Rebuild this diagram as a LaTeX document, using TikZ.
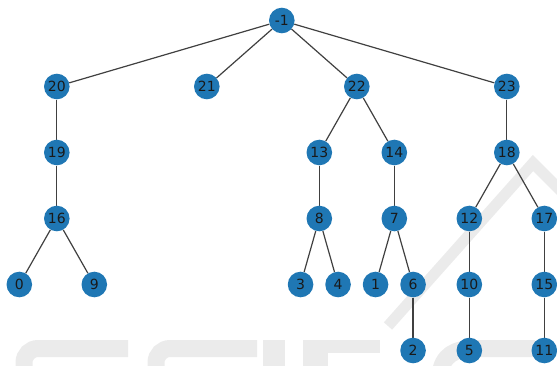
\documentclass[tikz,border=0pt]{standalone}
\usepackage{fontspec}
\setmainfont{DejaVu Sans}
\definecolor{nodeblue}{HTML}{1F77B4}
\definecolor{wmgray}{HTML}{EBEBEB}
\pgfdeclarelayer{wm}
\pgfdeclarelayer{edges}
\pgfsetlayers{wm,edges,main}
\tikzset{
  v/.style={circle, fill=nodeblue, minimum size=25.6pt, inner sep=0pt,
            text=black!90, font=\fontsize{14}{14}\selectfont},
  link/.style={draw=black!75, line width=1.2pt},
  wmstroke/.style={draw=wmgray, line width=17pt},
  wmfill/.style={fill=wmgray}
}
\begin{document}
\begin{tikzpicture}[x=1pt, y=-1pt]
\useasboundingbox (0,0) rectangle (557,365);

% tree nodes
\node[v] (nm1) at (281.8,20.5) {-1};
\node[v] (n20) at (56.8,86.5) {20};
\node[v] (n21) at (206.8,86.5) {21};
\node[v] (n22) at (356.8,86.5) {22};
\node[v] (n23) at (506.8,86.5) {23};
\node[v] (n19) at (56.8,152.5) {19};
\node[v] (n13) at (319.3,152.5) {13};
\node[v] (n14) at (394.3,152.5) {14};
\node[v] (n18) at (506.8,152.5) {18};
\node[v] (n16) at (56.8,218.5) {16};
\node[v] (n8) at (319.3,218.5) {8};
\node[v] (n7) at (394.3,218.5) {7};
\node[v] (n12) at (469.3,218.5) {12};
\node[v] (n17) at (544.3,218.5) {17};
\node[v] (n0) at (19.3,284.5) {0};
\node[v] (n9) at (94.3,284.5) {9};
\node[v] (n3) at (300.55,284.5) {3};
\node[v] (n4) at (338.05,284.5) {4};
\node[v] (n1) at (375.55,284.5) {1};
\node[v] (n6) at (413.05,284.5) {6};
\node[v] (n10) at (469.3,284.5) {10};
\node[v] (n15) at (544.3,284.5) {15};
\node[v] (n2) at (413.05,350.5) {2};
\node[v] (n5) at (469.3,350.5) {5};
\node[v] (n11) at (544.3,350.5) {11};

% edges
\begin{pgfonlayer}{edges}
\foreach \a/\b in {nm1/n20, nm1/n21, nm1/n22, nm1/n23,
                   n20/n19, n19/n16, n16/n0, n16/n9,
                   n22/n13, n22/n14, n13/n8, n8/n3, n8/n4,
                   n14/n7, n7/n1, n7/n6, n6/n2,
                   n23/n18, n18/n12, n18/n17, n12/n10, n10/n5,
                   n17/n15, n15/n11}
  \draw[link] (\a) -- (\b);
\end{pgfonlayer}

% faint publisher watermark
\begin{pgfonlayer}{wm}
\begin{scope}
  \clip (0,0) rectangle (557,365);
  \draw[draw=wmgray, line width=11pt, line join=miter]
    (388,326) -- (533,163) -- (575,205);
  \draw[wmstroke] (128,348.5) -- (38,348.5) arc[start angle=270, end angle=180, radius=14] -- (24,380);
  \draw[wmstroke] (257,348.5) -- (170,348.5) arc[start angle=270, end angle=180, radius=14] -- (156,380);
  \fill[wmfill] (263,340) rectangle (285,370);
  \fill[wmfill] (303,340) rectangle (380,353);
  \fill[wmfill] (303,340) rectangle (328,370);
  \draw[wmstroke] (440,375) .. controls (442,355) and (455,348.5) .. (475,348.5) -- (535,348.5);
\end{scope}
\end{pgfonlayer}
\end{tikzpicture}
\end{document}
